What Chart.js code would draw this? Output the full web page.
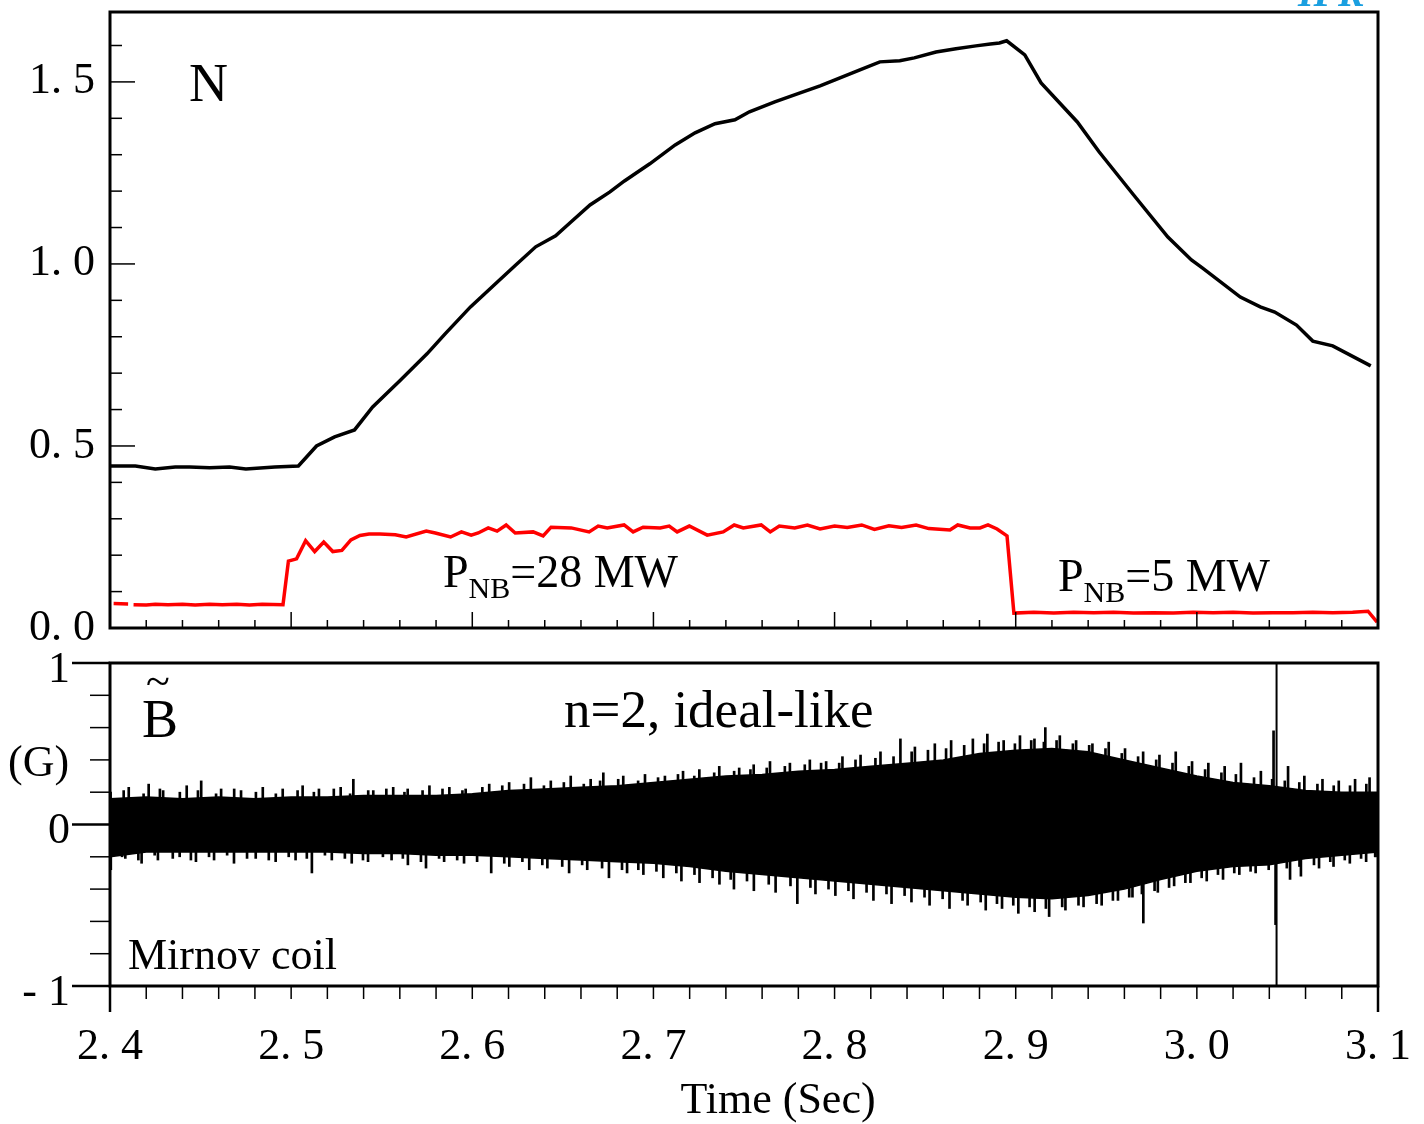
<!DOCTYPE html>
<html>
<head>
<meta charset="utf-8">
<title>N e B tilde</title>
<script src="https://cdn.jsdelivr.net/npm/chart.js@4.4.0/dist/chart.umd.min.js"></script>
<style>
  html, body { margin: 0; padding: 0; background: #fff; }
  #wrap { position: relative; width: 1424px; height: 1124px; }
  #wrap canvas { position: absolute; left: 0; top: 0; }
</style>
</head>
<body>
<div id="wrap">
  <canvas id="graficoN" width="1424" height="1124"></canvas>
  <canvas id="graficoB" width="1424" height="1124"></canvas>
</div>
<script>
// ---- dati ----
// curva nera N (pannello alto)
var tempiN = [2.400, 2.414, 2.425, 2.436, 2.444, 2.455, 2.466, 2.475, 2.491, 2.504,
  2.514, 2.524, 2.535, 2.545, 2.560, 2.575, 2.585, 2.599, 2.614, 2.624,
  2.635, 2.646, 2.654, 2.665, 2.676, 2.684, 2.698, 2.712, 2.723, 2.734,
  2.745, 2.753, 2.767, 2.781, 2.792, 2.803, 2.814, 2.825, 2.836, 2.844,
  2.856, 2.867, 2.878, 2.886, 2.891, 2.895, 2.905, 2.914, 2.934, 2.946,
  2.965, 2.984, 2.997, 3.003, 3.024, 3.035, 3.043, 3.055, 3.064, 3.075, 3.096];
var valoriN = [0.445, 0.445, 0.437, 0.442, 0.442, 0.440, 0.442, 0.437, 0.442, 0.445,
  0.500, 0.525, 0.544, 0.607, 0.679, 0.753, 0.808, 0.882, 0.951, 0.997,
  1.047, 1.077, 1.113, 1.162, 1.198, 1.228, 1.275, 1.327, 1.360, 1.385,
  1.396, 1.418, 1.445, 1.470, 1.489, 1.511, 1.533, 1.555, 1.558, 1.566,
  1.582, 1.591, 1.599, 1.604, 1.607, 1.613, 1.574, 1.497, 1.390, 1.308,
  1.190, 1.074, 1.011, 0.989, 0.909, 0.882, 0.868, 0.832, 0.788, 0.775, 0.720];

// curva rossa P_NB (pannello alto), null = pezzetto vuoto all'inizio
var tempiP = [2.402, 2.410, 2.411, 2.413, 2.420, 2.425, 2.432, 2.440, 2.447, 2.455,
  2.462, 2.470, 2.477, 2.484, 2.4955, 2.4985, 2.503, 2.508, 2.513, 2.518,
  2.523, 2.528, 2.533, 2.538, 2.543, 2.549, 2.5575, 2.5635, 2.5746, 2.5796,
  2.588, 2.594, 2.5994, 2.6033, 2.6088, 2.6137, 2.6187, 2.6237, 2.6336, 2.6391,
  2.6435, 2.6546, 2.6645, 2.6695, 2.6745, 2.6838, 2.6888, 2.6943, 2.7037, 2.7087,
  2.7131, 2.7198, 2.7297, 2.7385, 2.7446, 2.7496, 2.7595, 2.7645, 2.7695, 2.778,
  2.785, 2.792, 2.800, 2.807, 2.815, 2.822, 2.830, 2.837, 2.845, 2.852,
  2.8637, 2.868, 2.8748, 2.8803, 2.8847, 2.8897, 2.8952, 2.899, 2.910, 2.921,
  2.932, 2.943, 2.954, 2.965, 2.976, 2.987, 2.998, 3.009, 3.020, 3.031,
  3.042, 3.053, 3.064, 3.075, 3.086, 3.0945, 3.0995];
var valoriP = [0.067, 0.066, null, 0.064, 0.063, 0.065, 0.064, 0.065, 0.063, 0.065,
  0.064, 0.065, 0.063, 0.065, 0.064, 0.184, 0.190, 0.240, 0.210, 0.236,
  0.210, 0.213, 0.242, 0.254, 0.258, 0.258, 0.256, 0.250, 0.266, 0.261,
  0.250, 0.264, 0.255, 0.261, 0.275, 0.266, 0.283, 0.261, 0.264, 0.253,
  0.277, 0.275, 0.264, 0.280, 0.275, 0.283, 0.264, 0.277, 0.275, 0.280,
  0.264, 0.280, 0.255, 0.264, 0.283, 0.275, 0.283, 0.264, 0.280, 0.275,
  0.283, 0.272, 0.280, 0.276, 0.283, 0.271, 0.281, 0.276, 0.283, 0.273,
  0.269, 0.283, 0.275, 0.275, 0.283, 0.272, 0.253, 0.041, 0.043, 0.041,
  0.043, 0.042, 0.043, 0.041, 0.042, 0.041, 0.043, 0.042, 0.043, 0.041,
  0.042, 0.042, 0.043, 0.042, 0.043, 0.046, 0.016];

// segnale Mirnov (pannello basso): inviluppo della parte fitta
var tempiB = [2.40, 2.42, 2.44, 2.46, 2.48, 2.50, 2.52, 2.54, 2.56, 2.58, 2.60, 2.62,
  2.64, 2.66, 2.68, 2.70, 2.72, 2.74, 2.76, 2.78, 2.80, 2.82, 2.84, 2.86,
  2.88, 2.90, 2.92, 2.94, 2.96, 2.98, 3.00, 3.02, 3.04, 3.06, 3.08, 3.10];
var inviluppoSu = [0.16, 0.17, 0.16, 0.17, 0.16, 0.17, 0.17, 0.18, 0.18, 0.18, 0.19, 0.21,
  0.22, 0.23, 0.24, 0.26, 0.28, 0.30, 0.31, 0.33, 0.34, 0.36, 0.38, 0.40,
  0.44, 0.46, 0.47, 0.45, 0.40, 0.35, 0.30, 0.26, 0.24, 0.21, 0.20, 0.20];
var inviluppoGiu = [-0.20, -0.17, -0.17, -0.17, -0.17, -0.17, -0.17, -0.18, -0.18, -0.19, -0.19, -0.20,
  -0.21, -0.22, -0.23, -0.24, -0.26, -0.29, -0.31, -0.33, -0.35, -0.37, -0.39, -0.41,
  -0.43, -0.45, -0.46, -0.44, -0.40, -0.34, -0.29, -0.26, -0.25, -0.21, -0.19, -0.17];

// picchi grandi sopra e sotto l'inviluppo
var picchiSuT = [2.402, 2.412, 2.423, 2.431, 2.444, 2.452, 2.463, 2.474, 2.486, 2.497,
  2.508, 2.517, 2.529, 2.536, 2.547, 2.558, 2.566, 2.578, 2.589, 2.598,
  2.611, 2.622, 2.634, 2.645, 2.656, 2.667, 2.674, 2.685, 2.697, 2.708,
  2.718, 2.727, 2.738, 2.749, 2.757, 2.766, 2.777, 2.788, 2.797, 2.806,
  2.816, 2.827, 2.838, 2.846, 2.857, 2.866, 2.878, 2.886, 2.895, 2.904,
  2.912, 2.918, 2.926, 2.935, 2.944, 2.953, 2.962, 2.972, 2.981, 2.990,
  2.999, 3.008, 3.017, 3.026, 3.037, 3.044, 3.052, 3.061, 3.071, 3.080, 3.089, 3.097];
var picchiSuV = [0.20, 0.23, 0.25, 0.21, 0.24, 0.27, 0.22, 0.21, 0.23, 0.22,
  0.24, 0.22, 0.23, 0.28, 0.21, 0.23, 0.22, 0.24, 0.23, 0.22,
  0.25, 0.26, 0.29, 0.27, 0.30, 0.28, 0.32, 0.30, 0.31, 0.30,
  0.33, 0.34, 0.36, 0.35, 0.37, 0.39, 0.38, 0.40, 0.39, 0.42,
  0.43, 0.45, 0.53, 0.48, 0.50, 0.52, 0.53, 0.56, 0.52, 0.55,
  0.53, 0.60, 0.55, 0.52, 0.50, 0.51, 0.47, 0.45, 0.43, 0.45,
  0.39, 0.38, 0.36, 0.38, 0.33, 0.58, 0.36, 0.30, 0.28, 0.27, 0.28, 0.29];
var picchiGiuT = [2.401, 2.409, 2.418, 2.427, 2.439, 2.448, 2.458, 2.469, 2.481, 2.492,
  2.503, 2.512, 2.523, 2.534, 2.543, 2.556, 2.565, 2.575, 2.585, 2.596,
  2.611, 2.621, 2.632, 2.642, 2.654, 2.664, 2.676, 2.686, 2.695, 2.706,
  2.716, 2.726, 2.737, 2.745, 2.756, 2.768, 2.780, 2.790, 2.801, 2.811,
  2.822, 2.832, 2.843, 2.853, 2.864, 2.874, 2.884, 2.893, 2.902, 2.911,
  2.919, 2.928, 2.938, 2.948, 2.957, 2.965, 2.971, 2.979, 2.988, 2.997,
  3.006, 3.015, 3.024, 3.033, 3.044, 3.052, 3.058, 3.068, 3.076, 3.085, 3.094, 3.099];
var picchiGiuV = [-0.28, -0.21, -0.24, -0.22, -0.20, -0.23, -0.22, -0.24, -0.21, -0.23,
  -0.22, -0.30, -0.22, -0.24, -0.23, -0.22, -0.25, -0.27, -0.23, -0.24,
  -0.30, -0.26, -0.28, -0.27, -0.30, -0.28, -0.33, -0.30, -0.31, -0.33,
  -0.35, -0.36, -0.37, -0.40, -0.41, -0.42, -0.49, -0.43, -0.44, -0.46,
  -0.47, -0.49, -0.48, -0.50, -0.52, -0.50, -0.53, -0.52, -0.55, -0.54,
  -0.57, -0.53, -0.51, -0.50, -0.47, -0.45, -0.61, -0.42, -0.38, -0.36,
  -0.35, -0.34, -0.31, -0.30, -0.62, -0.34, -0.32, -0.27, -0.26, -0.24, -0.23, -0.20];

// picchi minori, in mezzo ai grandi
var minoriSuT = [2.407, 2.418, 2.427, 2.438, 2.448, 2.458, 2.468, 2.480, 2.491, 2.503,
  2.512, 2.523, 2.532, 2.542, 2.552, 2.562, 2.572, 2.583, 2.594, 2.605,
  2.616, 2.628, 2.639, 2.650, 2.661, 2.670, 2.680, 2.691, 2.702, 2.713,
  2.722, 2.733, 2.744, 2.753, 2.762, 2.772, 2.783, 2.792, 2.802, 2.811,
  2.822, 2.832, 2.842, 2.851, 2.861, 2.871, 2.882, 2.890, 2.899, 2.908,
  2.915, 2.922, 2.931, 2.940, 2.949, 2.958, 2.967, 2.977, 2.986, 2.995,
  3.004, 3.013, 3.021, 3.031, 3.041, 3.048, 3.056, 3.066, 3.075, 3.084, 3.093];
var minoriSuV = [0.21, 0.19, 0.22, 0.20, 0.21, 0.19, 0.22, 0.20, 0.19, 0.21,
  0.20, 0.22, 0.19, 0.21, 0.22, 0.20, 0.21, 0.22, 0.21, 0.23,
  0.24, 0.25, 0.24, 0.26, 0.25, 0.27, 0.28, 0.27, 0.29, 0.31,
  0.30, 0.32, 0.33, 0.34, 0.35, 0.36, 0.37, 0.38, 0.38, 0.40,
  0.41, 0.42, 0.45, 0.46, 0.47, 0.49, 0.50, 0.51, 0.50, 0.52,
  0.51, 0.52, 0.50, 0.49, 0.47, 0.44, 0.42, 0.40, 0.38, 0.36,
  0.34, 0.32, 0.31, 0.29, 0.28, 0.27, 0.26, 0.25, 0.24, 0.24, 0.25];
var minoriGiuT = [2.405, 2.414, 2.423, 2.433, 2.443, 2.453, 2.463, 2.474, 2.486, 2.497,
  2.507, 2.517, 2.528, 2.538, 2.549, 2.560, 2.570, 2.580, 2.590, 2.601,
  2.616, 2.626, 2.637, 2.648, 2.659, 2.670, 2.681, 2.690, 2.700, 2.711,
  2.721, 2.731, 2.741, 2.750, 2.762, 2.774, 2.785, 2.795, 2.806, 2.816,
  2.827, 2.837, 2.848, 2.858, 2.869, 2.879, 2.888, 2.897, 2.906, 2.915,
  2.924, 2.933, 2.943, 2.952, 2.961, 2.968, 2.975, 2.983, 2.992, 3.001,
  3.010, 3.019, 3.028, 3.038, 3.048, 3.055, 3.063, 3.072, 3.080, 3.089, 3.097];
var minoriGiuV = [-0.20, -0.22, -0.19, -0.21, -0.22, -0.20, -0.19, -0.21, -0.22, -0.20,
  -0.21, -0.19, -0.21, -0.22, -0.20, -0.21, -0.23, -0.21, -0.22, -0.23,
  -0.24, -0.23, -0.25, -0.26, -0.25, -0.27, -0.28, -0.28, -0.29, -0.30,
  -0.31, -0.33, -0.34, -0.35, -0.37, -0.38, -0.39, -0.40, -0.41, -0.42,
  -0.43, -0.44, -0.45, -0.46, -0.47, -0.48, -0.49, -0.50, -0.51, -0.52,
  -0.51, -0.50, -0.49, -0.47, -0.45, -0.43, -0.41, -0.39, -0.36, -0.33,
  -0.31, -0.30, -0.29, -0.28, -0.27, -0.26, -0.25, -0.23, -0.22, -0.21, -0.20];

// linea verticale a t = 3.044
var tempoLinea = [3.044, 3.044];
var valoriLinea = [-1, 1];

// etichette assi
var tickTempo = [2.4, 2.5, 2.6, 2.7, 2.8, 2.9, 3.0, 3.1];

// ---- costruzione grafici ----
var FONT = "'Liberation Serif', 'Times New Roman', serif";
Chart.defaults.font.family = FONT;
Chart.defaults.color = '#000';

function punti(tt, vv) {
  var out = [];
  for (var i = 0; i < tt.length; i++) {
    out.push({ x: tt[i], y: vv[i] });
  }
  return out;
}
function barrette(tt, vv) {
  var out = [];
  for (var i = 0; i < tt.length; i++) {
    out.push({ x: tt[i], y: [0, vv[i]] });
  }
  return out;
}
function linea(ctx, x1, y1, x2, y2) {
  ctx.beginPath();
  ctx.moveTo(x1, y1);
  ctx.lineTo(x2, y2);
  ctx.stroke();
}
function formatoPunto(v) {
  return Number(v).toFixed(1).replace('.', '. ');
}
// niente spazio extra per le etichette che sporgono
function senzaPadding(scale) {
  scale.paddingTop = 0;
  scale.paddingBottom = 0;
  scale.paddingLeft = 0;
  scale.paddingRight = 0;
}

// pannello alto: cornice, tacche e scritte
var decorN = {
  id: 'decorN',
  afterDatasetsDraw: function(chart) {
    var ctx = chart.ctx, a = chart.chartArea;
    var sx = chart.scales.x, sy = chart.scales.y;
    ctx.save();
    ctx.strokeStyle = '#000';
    ctx.lineWidth = 1.5;
    for (var i = 1; i <= 16; i++) {
      var y = sy.getPixelForValue(i / 10);
      linea(ctx, a.left, y, a.left + (i % 5 === 0 ? 25 : 12), y);
    }
    for (var j = 1; j < 35; j++) {
      var x = sx.getPixelForValue(2.4 + j * 0.02);
      linea(ctx, x, a.bottom, x, a.bottom - (j % 5 === 0 ? 16 : 8));
    }
    ctx.lineWidth = 3;
    ctx.strokeRect(a.left, a.top, a.right - a.left, a.bottom - a.top);

    ctx.fillStyle = '#000';
    ctx.textBaseline = 'alphabetic';
    ctx.font = '54px ' + FONT;
    ctx.fillText('N', 189, 101);

    // P_NB=28 MW
    ctx.font = '46px ' + FONT;
    ctx.fillText('P', 443, 587);
    var w = ctx.measureText('P').width;
    ctx.font = '30px ' + FONT;
    ctx.fillText('NB', 443 + w, 598);
    var w2 = ctx.measureText('NB').width;
    ctx.font = '46px ' + FONT;
    ctx.fillText('=28 MW', 443 + w + w2, 587);

    // P_NB=5 MW
    ctx.fillText('P', 1058, 591);
    ctx.font = '30px ' + FONT;
    ctx.fillText('NB', 1058 + w, 602);
    ctx.font = '46px ' + FONT;
    ctx.fillText('=5 MW', 1058 + w + w2, 591);

    // scritta azzurra tagliata in alto
    ctx.fillStyle = '#1a9fe0';
    ctx.font = 'italic bold 40px ' + FONT;
    ctx.fillText('IPR', 1298, 6);
    ctx.restore();
  }
};

// pannello basso: cornice, tacche e scritte
var decorB = {
  id: 'decorB',
  afterDatasetsDraw: function(chart) {
    var ctx = chart.ctx, a = chart.chartArea;
    var sx = chart.scales.x, sy = chart.scales.y;
    ctx.save();
    ctx.strokeStyle = '#000';
    ctx.lineWidth = 1.5;
    for (var i = -4; i <= 4; i++) {
      if (i === 0) continue;
      var y = sy.getPixelForValue(i / 5);
      linea(ctx, a.left - 20, y, a.left, y);
    }
    for (var j = 1; j < 35; j++) {
      var x = sx.getPixelForValue(2.4 + j * 0.02);
      linea(ctx, x, a.bottom, x, a.bottom + 13);
    }
    ctx.lineWidth = 2.5;
    linea(ctx, a.left - 38, sy.getPixelForValue(0), a.left, sy.getPixelForValue(0));
    linea(ctx, a.left - 38, a.top, a.left, a.top);
    linea(ctx, a.left - 38, a.bottom, a.left, a.bottom);
    linea(ctx, a.left, a.bottom, a.left, a.bottom + 26);
    linea(ctx, a.right, a.bottom, a.right, a.bottom + 26);
    ctx.lineWidth = 3;
    ctx.strokeRect(a.left, a.top, a.right - a.left, a.bottom - a.top);

    ctx.fillStyle = '#000';
    ctx.textBaseline = 'alphabetic';
    ctx.font = '54px ' + FONT;
    ctx.fillText('B', 142, 737);
    ctx.font = '44px ' + FONT;
    ctx.fillText('~', 146, 696);
    ctx.fillText('(G)', 8, 776);
    ctx.fillText('Mirnov coil', 128, 969);
    ctx.font = '53px ' + FONT;
    ctx.fillText('n=2, ideal-like', 564, 727);

    // titolo asse tempi, un po' spostato a destra come nell'originale
    ctx.font = '44px ' + FONT;
    ctx.textAlign = 'center';
    ctx.fillText('Time (Sec)', 778, 1113);
    ctx.restore();
  }
};

var graficoN = new Chart(document.getElementById('graficoN'), {
  type: 'line',
  data: {
    datasets: [{
      label: 'N',
      data: punti(tempiN, valoriN),
      borderColor: '#000',
      borderWidth: 3.5,
      pointRadius: 0,
      tension: 0
    }, {
      label: 'P_NB',
      data: punti(tempiP, valoriP),
      borderColor: '#ff0000',
      borderWidth: 3.5,
      pointRadius: 0,
      tension: 0,
      spanGaps: false
    }]
  },
  options: {
    responsive: false,
    animation: false,
    devicePixelRatio: 1,
    layout: { padding: { top: 12, right: 46, bottom: 496, left: 0 } },
    plugins: { legend: { display: false }, tooltip: { enabled: false } },
    scales: {
      x: { type: 'linear', min: 2.4, max: 3.1, offset: false, display: false },
      y: {
        min: 0,
        max: 1.692,
        grid: { display: false, drawTicks: false },
        border: { display: false },
        ticks: {
          stepSize: 0.5,
          padding: 15,
          font: { size: 44 },
          color: '#000',
          callback: function(v) {
            return (Math.abs(v * 2 - Math.round(v * 2)) < 1e-6) ? formatoPunto(v) : '';
          }
        },
        afterFit: function(scale) { scale.width = 110; senzaPadding(scale); }
      }
    }
  },
  plugins: [decorN]
});

var graficoB = new Chart(document.getElementById('graficoB'), {
  type: 'line',
  data: {
    datasets: [{
      label: 'inviluppo su',
      data: punti(tempiB, inviluppoSu),
      borderColor: '#000',
      backgroundColor: '#000',
      borderWidth: 1.5,
      pointRadius: 0,
      tension: 0,
      fill: '+1'
    }, {
      label: 'inviluppo giu',
      data: punti(tempiB, inviluppoGiu),
      borderColor: '#000',
      borderWidth: 1.5,
      pointRadius: 0,
      tension: 0,
      fill: false
    }, {
      type: 'bar',
      label: 'picchi su',
      data: barrette(picchiSuT, picchiSuV),
      backgroundColor: '#000',
      barThickness: 2
    }, {
      type: 'bar',
      label: 'picchi giu',
      data: barrette(picchiGiuT, picchiGiuV),
      backgroundColor: '#000',
      barThickness: 2
    }, {
      type: 'bar',
      label: 'minori su',
      data: barrette(minoriSuT, minoriSuV),
      backgroundColor: '#000',
      barThickness: 2
    }, {
      type: 'bar',
      label: 'minori giu',
      data: barrette(minoriGiuT, minoriGiuV),
      backgroundColor: '#000',
      barThickness: 2
    }, {
      label: 'linea',
      data: punti(tempoLinea, valoriLinea),
      borderColor: '#000',
      borderWidth: 2,
      pointRadius: 0
    }]
  },
  options: {
    responsive: false,
    animation: false,
    devicePixelRatio: 1,
    layout: { padding: { top: 663, right: 46, bottom: 0, left: 0 } },
    plugins: { legend: { display: false }, tooltip: { enabled: false } },
    scales: {
      x: {
        type: 'linear',
        min: 2.4,
        max: 3.1,
        offset: false,
        grid: { display: false, drawTicks: false, offset: false },
        border: { display: false },
        afterBuildTicks: function(scale) {
          scale.ticks = tickTempo.map(function(t) { return { value: t }; });
        },
        ticks: {
          padding: 35,
          font: { size: 44 },
          color: '#000',
          maxRotation: 0,
          autoSkip: false,
          callback: function(v) { return formatoPunto(v); }
        },
        afterFit: function(scale) { scale.height = 138; senzaPadding(scale); }
      },
      y: {
        min: -1,
        max: 1,
        grid: { display: false, drawTicks: false },
        border: { display: false },
        ticks: {
          stepSize: 1,
          padding: 40,
          labelOffset: 7,
          font: { size: 44 },
          color: '#000',
          callback: function(v) { return v === -1 ? '- 1' : String(v); }
        },
        afterFit: function(scale) { scale.width = 110; senzaPadding(scale); }
      }
    }
  },
  plugins: [decorB]
});
</script>
</body>
</html>
